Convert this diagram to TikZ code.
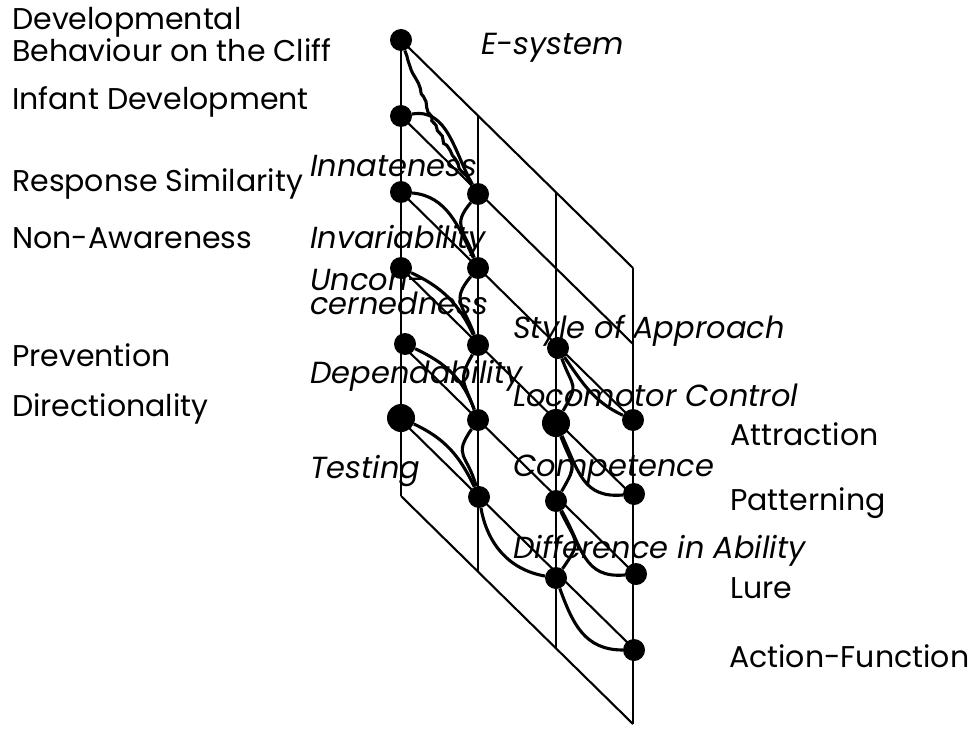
\documentclass[tikz,border=0pt]{standalone}
\usepackage{fontspec}
\setmainfont{Poppins}
\usetikzlibrary{decorations.pathmorphing}
\pgfmathsetseed{11}

\begin{document}
\begin{tikzpicture}
[x=1pt,y=1pt,
  nodedecorate/.style={shape=circle,fill,inner sep=0pt,minimum size=22pt},%
  bignodedecorate/.style={nodedecorate,minimum size=28pt},%
  arrowdecorate/.style={-,line width=3.1pt},%
  roughdecorate/.style={arrowdecorate,decorate,decoration={random steps,segment length=5pt,amplitude=1.6pt}},%
  griddecorate/.style={line width=2.1pt},%
  labeldecorate/.style={anchor=base west,inner sep=0pt,font=\fontsize{30}{25}\selectfont},%
  itlabeldecorate/.style={labeldecorate,font=\fontsize{30.5}{21}\selectfont\itshape}]
\useasboundingbox (0,0) rectangle (976,-730);
% grid
\draw[griddecorate] (401,-40) -- (401,-496);
\draw[griddecorate] (478,-116) -- (478,-572);
\draw[griddecorate] (556,-192) -- (556,-648);
\draw[griddecorate] (633,-268) -- (633,-724);
\draw[griddecorate] (401,-40) -- (633,-268);
\draw[griddecorate] (401,-116) -- (633,-344);
\draw[griddecorate] (401,-192) -- (633,-420);
\draw[griddecorate] (401,-268) -- (633,-496);
\draw[griddecorate] (401,-344) -- (633,-572);
\draw[griddecorate] (401,-420) -- (633,-648);
\draw[griddecorate] (401,-496) -- (633,-724);
% nodes or vertices
\node (cliff) at (401,-40) [nodedecorate] {};
\node (infant) at (401,-116) [nodedecorate] {};
\node (resp) at (401,-192) [nodedecorate] {};
\node (nonaw) at (401,-268) [nodedecorate] {};
\node (prev) at (405,-344) [nodedecorate] {};
\node (direc) at (401,-418) [bignodedecorate] {};
\node (innat) at (478,-194) [nodedecorate] {};
\node (invar) at (478,-268) [nodedecorate] {};
\node (uncon) at (478,-345) [nodedecorate] {};
\node (depend) at (478,-420) [nodedecorate] {};
\node (test) at (479,-497) [nodedecorate] {};
\node (style) at (558,-348) [nodedecorate] {};
\node (locom) at (556,-423) [bignodedecorate] {};
\node (compet) at (556,-501) [nodedecorate] {};
\node (diff) at (556,-578) [nodedecorate] {};
\node (attr) at (633,-420) [nodedecorate] {};
\node (patt) at (634,-494) [nodedecorate] {};
\node (lure) at (636,-574) [nodedecorate] {};
\node (actf) at (634,-650) [nodedecorate] {};
% labels
\node (cliff-l) at (12,-7) [labeldecorate,anchor=north west,align=left] {Developmental\\Behaviour on the Cliff};
\node (infant-l) at (12,-110) [labeldecorate] {Infant Development};
\node (resp-l) at (12,-191) [labeldecorate] {Response Similarity};
\node (nonaw-l) at (12,-248) [labeldecorate] {Non-Awareness};
\node (prev-l) at (12,-366) [labeldecorate] {Prevention};
\node (direc-l) at (12,-416) [labeldecorate] {Directionality};
\node (innat-l) at (310,-177) [itlabeldecorate] {Innateness};
\node (invar-l) at (310,-248) [itlabeldecorate] {Invariability};
\node (uncon-l) at (310,-269) [itlabeldecorate,anchor=north west,align=left] {Uncon-\\cernedness};
\node (depend-l) at (310,-383) [itlabeldecorate] {Dependability};
\node (test-l) at (310,-478) [itlabeldecorate] {Testing};
\node (esys-l) at (481,-55) [itlabeldecorate] {E-system};
\node (style-l) at (513,-338) [itlabeldecorate] {Style of Approach};
\node (locom-l) at (513,-406) [itlabeldecorate] {Locomotor Control};
\node (compet-l) at (513,-476) [itlabeldecorate] {Competence};
\node (diff-l) at (513,-558) [itlabeldecorate] {Difference in Ability};
\node (attr-l) at (730,-445) [labeldecorate] {Attraction};
\node (patt-l) at (730,-510) [labeldecorate] {Patterning};
\node (lure-l) at (730,-598) [labeldecorate] {Lure};
\node (actf-l) at (729,-667) [labeldecorate] {Action-Function};
% edges or lines
\path
(cliff) edge[roughdecorate,out=-70,in=125] (innat)
(infant) edge[arrowdecorate,out=10,in=120] (innat)
(resp) edge[arrowdecorate,out=-5,in=115] (invar)
(innat) edge[arrowdecorate,out=-130,in=110,looseness=1.4] (invar)
(nonaw) edge[arrowdecorate,out=-25,in=115] (uncon)
(invar) edge[arrowdecorate,out=-130,in=110,looseness=1.4] (uncon)
(prev) edge[arrowdecorate,out=-25,in=110] (depend)
(uncon) edge[arrowdecorate,out=-120,in=110,looseness=1.4] (depend)
(direc) edge[arrowdecorate,out=-25,in=115] (test)
(depend) edge[arrowdecorate,out=-125,in=105,looseness=1.5] (test)
(test) edge[arrowdecorate,out=-80,in=170] (diff)
(style) edge[arrowdecorate,out=-70,in=60,looseness=1.6] (locom)
(style) edge[arrowdecorate,out=-55,in=155] (attr)
(locom) edge[arrowdecorate,out=-70,in=60,looseness=1.6] (compet)
(locom) edge[arrowdecorate,out=-65,in=185,looseness=1.2] (patt)
(compet) edge[arrowdecorate,out=-60,in=185,looseness=1.2] (lure)
(compet) edge[arrowdecorate,out=-65,in=55,looseness=1.6] (diff)
(diff) edge[arrowdecorate,out=-70,in=180,looseness=1.1] (actf);
\end{tikzpicture}
\end{document}
